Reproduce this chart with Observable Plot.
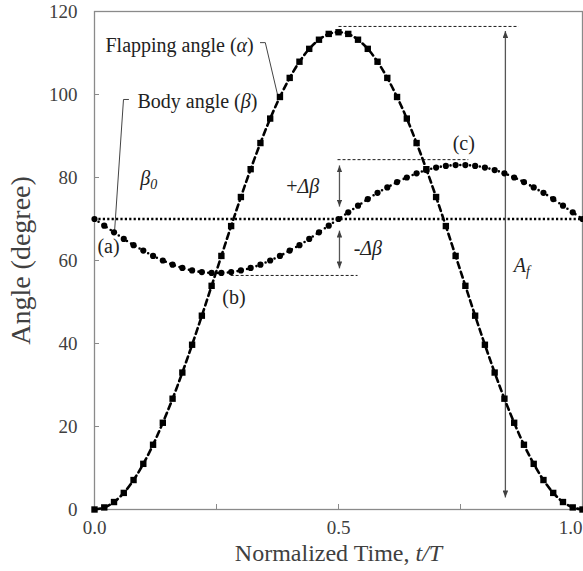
<!DOCTYPE html>
<html>
<head>
<meta charset="utf-8">
<script src="https://cdn.jsdelivr.net/npm/d3@7"></script>
<script src="https://cdn.jsdelivr.net/npm/@observablehq/plot@0.6"></script>
<style>
  html, body { margin: 0; padding: 0; background: white; font-family: "Liberation Serif", serif; }
  svg text, svg tspan { font-family: "Liberation Serif", serif !important; }
</style>
</head>
<body>
<div id="chart"></div>
<script>
// ---- data ----
const timeSteps = [0, 0.02, 0.04, 0.06, 0.08, 0.10, 0.12, 0.14, 0.16, 0.18, 0.20, 0.22, 0.24, 0.26, 0.28, 0.30, 0.32, 0.34, 0.36, 0.38, 0.40, 0.42, 0.44, 0.46, 0.48, 0.50, 0.52, 0.54, 0.56, 0.58, 0.60, 0.62, 0.64, 0.66, 0.68, 0.70, 0.72, 0.74, 0.76, 0.78, 0.80, 0.82, 0.84, 0.86, 0.88, 0.90, 0.92, 0.94, 0.96, 0.98, 1.00];
const flappingAngle = [0, 0.5, 1.8, 4.0, 7.1, 11.0, 15.6, 20.9, 26.7, 33.0, 39.7, 46.7, 53.9, 61.1, 68.3, 75.3, 82.0, 88.3, 94.2, 99.4, 104.0, 107.9, 111.0, 113.2, 114.6, 115.0, 114.6, 113.2, 111.0, 107.9, 104.0, 99.4, 94.2, 88.3, 82.0, 75.3, 68.3, 61.1, 53.9, 46.7, 39.7, 33.0, 26.7, 20.9, 15.6, 11.0, 7.1, 4.0, 1.8, 0.5, 0];
const bodyAngle = [70.0, 68.4, 66.8, 65.2, 63.7, 62.4, 61.1, 60.0, 59.0, 58.2, 57.6, 57.2, 57.0, 57.0, 57.2, 57.6, 58.2, 59.0, 60.0, 61.1, 62.4, 63.7, 65.2, 66.8, 68.4, 70.0, 71.6, 73.2, 74.8, 76.3, 77.6, 78.9, 80.0, 81.0, 81.8, 82.4, 82.8, 83.0, 83.0, 82.8, 82.4, 81.8, 81.0, 80.0, 78.9, 77.6, 76.3, 74.8, 73.2, 71.6, 70.0];
const beta0 = 70;

const yTicks = [0, 20, 40, 60, 80, 100, 120];
const xTicks = [0, 0.25, 0.5, 0.75, 1.0];
const xTickLabels = [0, 0.5];
const xTickLabelsEnd = [1.0];
const yTitle = "Angle (degree)";
const xTitle = "Normalized Time, _t/T_";

// annotation labels: [t, angle, text]   (_x_ = italic, ~x~ = subscript)
const labels = [
  [0.0225, 111.8, "Flapping angle (_α_)"],
  [0.088, 98.3, "Body angle (_β_)"],
  [0.094, 79.8, "_β_~0~"],
  [0.006, 63.4, "(a)"],
  [0.262, 51.1, "(b)"],
  [0.734, 88.2, "(c)"],
  [0.393, 77.8, "+_Δβ_"],
  [0.531, 62.9, "-_Δβ_"],
  [0.859, 58.8, "_A_~f~"]
];
// leader lines
const leaderAlpha = [[0.340, 112.5], [0.350, 112.5], [0.377, 99.0]];
const leaderBeta = [[0.0697, 98.8], [0.0594, 98.8], [0.041, 66.8]];
// thin dashed guides: [t1, t2, angle]
const guides = [
  [0.500, 0.869, 116.4],
  [0.498, 0.766, 84.3],
  [0.279, 0.539, 56.4]
];
// double-headed dimension arrows: [t, angle1, angle2]
const dimArrows = [
  [0.502, 82.9, 73.0],
  [0.502, 67.2, 58.1],
  [0.842, 115.3, 2.9]
];

// ---- build ----
const FONT = "Liberation Serif";
const series = timeSteps.map((t, i) => ({t, alpha: flappingAngle[i], beta: bodyAngle[i]}));

const chart = Plot.plot({
  width: 583,
  height: 571,
  marginLeft: 94,
  marginRight: 1,
  marginTop: 11,
  marginBottom: 62,
  x: {domain: [0, 1]},
  y: {domain: [0, 120]},
  style: {fontFamily: FONT, fontSize: "19px", color: "#404040", background: "white"},
  marks: [
    Plot.frame({stroke: "#8a8a8a", strokeWidth: 1.3}),
    Plot.axisY(yTicks, {tickSize: -5, tickPadding: 22, label: null, fontSize: 19, fontFamily: FONT, stroke: "#8a8a8a"}),
    Plot.axisX(xTicks, {tickSize: -5, tickFormat: () => "", label: null, stroke: "#8a8a8a"}),
    Plot.text(xTickLabels, {x: d => d, frameAnchor: "bottom", dy: 18, lineAnchor: "middle", text: d => d.toFixed(1), fontSize: 19, fontFamily: FONT, textAnchor: "middle"}),
    Plot.text(xTickLabelsEnd, {x: d => d, frameAnchor: "bottom", dy: 18, lineAnchor: "middle", text: d => d.toFixed(1), fontSize: 19, fontFamily: FONT, textAnchor: "end"}),
    Plot.text([yTitle], {frameAnchor: "left", dx: -73, rotate: -90, textAnchor: "middle", lineAnchor: "middle", fontSize: 28, fontFamily: FONT, fill: "#404040"}),
    Plot.text([xTitle], {frameAnchor: "bottom", dy: 44, lineAnchor: "middle", textAnchor: "middle", fontSize: 24, fontFamily: FONT, fill: "#404040"}),
    // guides
    Plot.ruleY([beta0], {stroke: "black", strokeWidth: 2.4, strokeDasharray: "2.2,2.2"}),
    Plot.link(guides, {x1: d => d[0], x2: d => d[1], y1: d => d[2], y2: d => d[2], stroke: "black", strokeWidth: 0.9, strokeDasharray: "3,2"}),
    Plot.link(dimArrows, {x1: d => d[0], x2: d => d[0], y1: d => d[1], y2: d => d[2], stroke: "#565656", strokeWidth: 1.3}),
    Plot.line(leaderAlpha, {x: d => d[0], y: d => d[1], stroke: "#444", strokeWidth: 1, curve: "linear"}),
    Plot.line(leaderBeta, {x: d => d[0], y: d => d[1], stroke: "#444", strokeWidth: 1, curve: "linear"}),
    // body angle
    Plot.line(series, {x: "t", y: "beta", stroke: "black", strokeWidth: 2.6, strokeDasharray: "0,4.9", strokeLinecap: "round", curve: "catmull-rom"}),
    Plot.dot(series, {x: "t", y: "beta", r: 3.1, fill: "black", stroke: "none"}),
    // flapping angle
    Plot.line(series, {x: "t", y: "alpha", stroke: "black", strokeWidth: 2.6, strokeDasharray: "6,4", curve: "catmull-rom"}),
    Plot.dot(series, {x: "t", y: "alpha", symbol: "square", r: 3.6, fill: "black", stroke: "none"}),
    // labels
    Plot.text(labels, {x: d => d[0], y: d => d[1], text: d => d[2], textAnchor: "start", lineAnchor: "middle", fontSize: 20, fontFamily: FONT, fill: "#222"})
  ]
});

document.getElementById("chart").appendChild(chart);

const svgEl = chart.tagName.toLowerCase() === "svg" ? chart : chart.querySelector("svg");
const svg = d3.select(svgEl);

// ---- rich text: italic and subscript pieces ----
svg.selectAll("text").each(function () {
  const el = d3.select(this);
  const raw = el.text();
  if (!/[_~]/.test(raw)) return;
  el.text("");
  const parts = raw.split(/(_[^_]+_|~[^~]+~)/).filter(p => p !== "");
  let shifted = false;
  for (const p of parts) {
    const ts = el.append("tspan").attr("font-family", FONT);
    if (p.startsWith("_")) {
      ts.text(p.slice(1, -1)).attr("font-style", "italic");
      if (shifted) { ts.attr("dy", "-0.3em"); shifted = false; }
    } else if (p.startsWith("~")) {
      ts.text(p.slice(1, -1)).attr("font-style", "italic").attr("font-size", "70%").attr("dy", "0.3em");
      shifted = true;
    } else {
      ts.text(p);
      if (shifted) { ts.attr("dy", "-0.3em"); shifted = false; }
    }
  }
});
svg.selectAll("text, tspan").attr("font-family", FONT);

// ---- filled arrow heads for dimension arrows ----
const defs = svg.insert("defs", ":first-child");
defs.append("marker")
  .attr("id", "tri-head")
  .attr("viewBox", "0 0 10 8")
  .attr("refX", 10).attr("refY", 4)
  .attr("markerWidth", 7).attr("markerHeight", 5.6)
  .attr("markerUnits", "userSpaceOnUse")
  .attr("orient", "auto-start-reverse")
  .append("path").attr("d", "M0,0L10,4L0,8Z").attr("fill", "#404040");
svg.selectAll("path").filter(function () {
  const g = this.parentNode;
  return (this.getAttribute("stroke") === "#565656") || (g && g.getAttribute && g.getAttribute("stroke") === "#565656");
})
  .attr("marker-start", "url(#tri-head)")
  .attr("marker-end", "url(#tri-head)");
</script>
</body>
</html>
